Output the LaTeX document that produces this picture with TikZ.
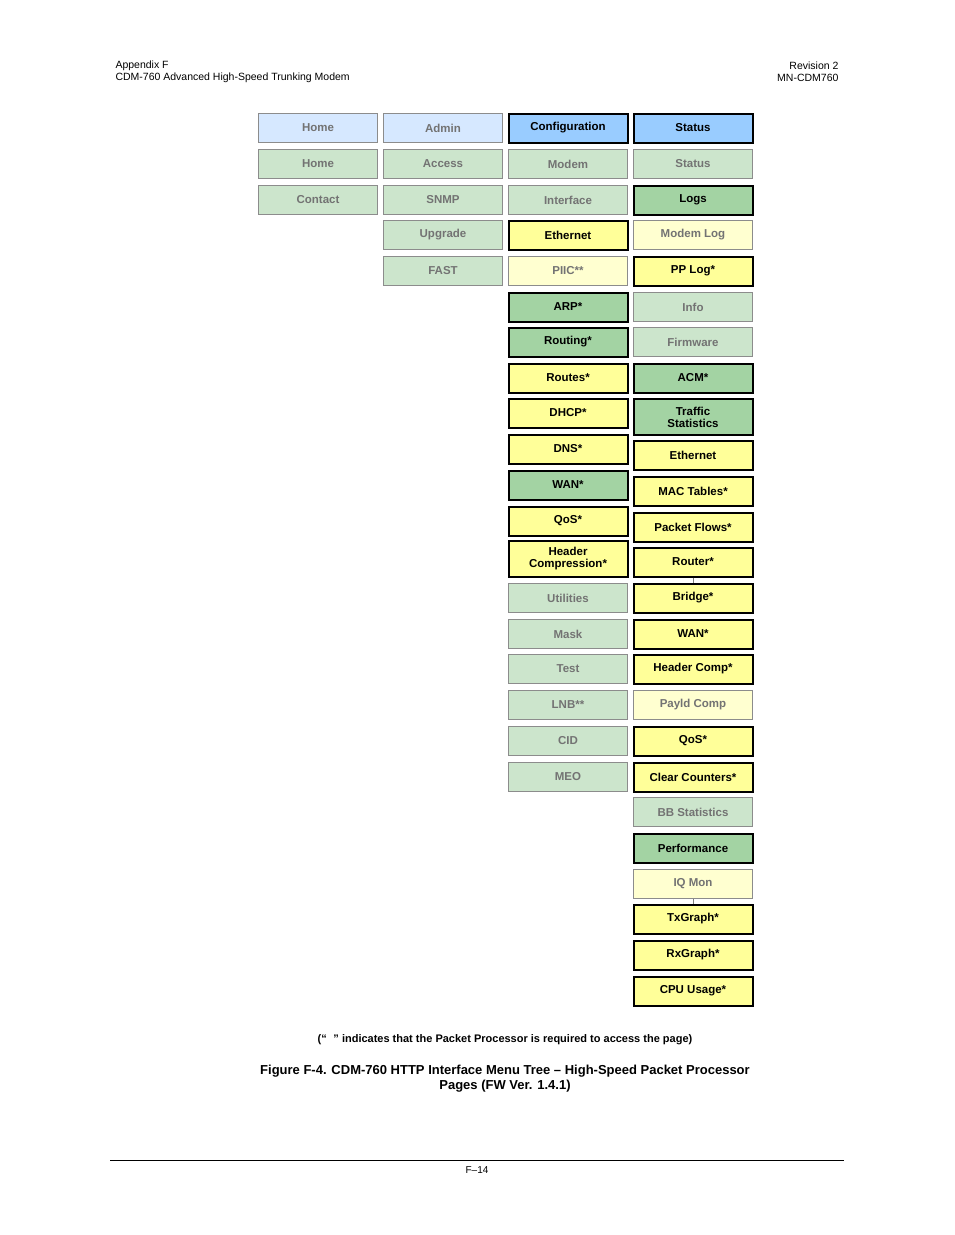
\documentclass[tikz,border=0pt]{standalone}
\usepackage{fontspec}
\setmainfont{Liberation Sans}
\begin{document}
\begin{tikzpicture}[x=1pt,y=-1pt,
 box/.style={draw, minimum width=119pt, minimum height=29pt, inner sep=1pt, align=center, font=\bfseries\fontsize{11.5}{11}\selectfont},
 lb/.style={box, fill={rgb,255:red,214;green,232;blue,255}, draw=gray!90, text=gray!90!black, line width=1pt},
 db/.style={box, fill={rgb,255:red,153;green,204;blue,255}, line width=2pt, text=black},
 lg/.style={box, fill={rgb,255:red,204;green,229;blue,204}, draw=gray!90, text=gray!90!black, line width=1pt},
 dg/.style={box, fill={rgb,255:red,163;green,211;blue,163}, line width=2pt, text=black},
 ly/.style={box, fill={rgb,255:red,255;green,255;blue,208}, draw=gray!90, text=gray!90!black, line width=1pt},
 yy/.style={box, fill={rgb,255:red,255;green,255;blue,153}, line width=2pt, text=black},
 tall/.style={minimum height=36pt, font=\bfseries\fontsize{11.5}{12}\selectfont}]
\useasboundingbox (0,0) rectangle (954,1235);
\node[anchor=west,font=\fontsize{10.5}{12}\selectfont,align=left] (h1) at (112,72) {Appendix F\\CDM-760 Advanced High-Speed Trunking Modem};
\node[anchor=east,font=\fontsize{10.5}{12}\selectfont,align=right] (h2) at (842,72) {Revision 2\\MN-CDM760};
% column 1
\node[lb] (a1) at (318,128) {Home};
\node[lg] (a2) at (318,164) {Home};
\node[lg] (a3) at (318,200) {Contact};
% column 2
\node[lb] (b1) at (443,128) {Admin};
\node[lg] (b2) at (443,164) {Access};
\node[lg] (b3) at (443,200) {SNMP};
\node[lg] (b4) at (443,235) {Upgrade};
\node[lg] (b5) at (443,271) {FAST};
% column 3
\node[db] (c1) at (568,128) {Configuration};
\node[lg] (c2) at (568,164) {Modem};
\node[lg] (c3) at (568,200) {Interface};
\node[yy] (c4) at (568,235) {Ethernet};
\node[ly] (c5) at (568,271) {PIIC**};
\node[dg] (c6) at (568,307) {ARP*};
\node[dg] (c7) at (568,342) {Routing*};
\node[yy] (c8) at (568,378) {Routes*};
\node[yy] (c9) at (568,413) {DHCP*};
\node[yy] (c10) at (568,449) {DNS*};
\node[dg] (c11) at (568,485) {WAN*};
\node[yy] (c12) at (568,521) {QoS*};
\node[yy,tall] (c13) at (568,559) {Header\\Compression*};
\node[lg] (c14) at (568,598) {Utilities};
\node[lg] (c15) at (568,634) {Mask};
\node[lg] (c16) at (568,669) {Test};
\node[lg] (c17) at (568,705) {LNB**};
\node[lg] (c18) at (568,741) {CID};
\node[lg] (c19) at (568,777) {MEO};
% column 4
\node[db] (d1) at (693,128) {Status};
\node[lg] (d2) at (693,164) {Status};
\node[dg] (d3) at (693,200) {Logs};
\node[ly] (d4) at (693,235) {Modem Log};
\node[yy] (d5) at (693,271) {PP Log*};
\node[lg] (d6) at (693,307) {Info};
\node[lg] (d7) at (693,342) {Firmware};
\node[dg] (d8) at (693,378) {ACM*};
\node[dg,tall] (d9) at (693,417) {Traffic\\Statistics};
\node[yy] (d10) at (693,455) {Ethernet};
\node[yy] (d11) at (693,491) {MAC Tables*};
\node[yy] (d12) at (693,527) {Packet Flows*};
\node[yy] (d13) at (693,562) {Router*};
\node[yy] (d14) at (693,598) {Bridge*};
\node[yy] (d15) at (693,634) {WAN*};
\node[yy] (d16) at (693,669) {Header Comp*};
\node[ly] (d17) at (693,705) {Payld Comp};
\node[yy] (d18) at (693,741) {QoS*};
\node[yy] (d19) at (693,777) {Clear Counters*};
\node[lg] (d20) at (693,812) {BB Statistics};
\node[dg] (d21) at (693,848) {Performance};
\node[ly] (d22) at (693,884) {IQ Mon};
\node[yy] (d23) at (693,919) {TxGraph*};
\node[yy] (d24) at (693,955) {RxGraph*};
\node[yy] (d25) at (693,991) {CPU Usage*};
\draw[gray, line width=0.6pt] (d13.south) -- (d14.north);
\draw[gray, line width=0.6pt] (d22.south) -- (d23.north);
% captions
\node[font=\bfseries\fontsize{11}{13}\selectfont] (fn) at (505,1040) {(“\hspace{0.6em}” indicates that the Packet Processor is required to access the page)};
\node[font=\bfseries\fontsize{13}{15}\selectfont,align=center] (cap) at (505,1079) {Figure F-4. CDM-760 HTTP Interface Menu Tree – High-Speed Packet Processor\\Pages (FW Ver. 1.4.1)};
\coordinate (l1) at (110,1160);
\coordinate (l2) at (844,1160);
\draw[line width=0.8pt] (l1) -- (l2);
\node[font=\fontsize{10}{12}\selectfont] (pg) at (477,1170) {F–14};
\end{tikzpicture}
\end{document}
